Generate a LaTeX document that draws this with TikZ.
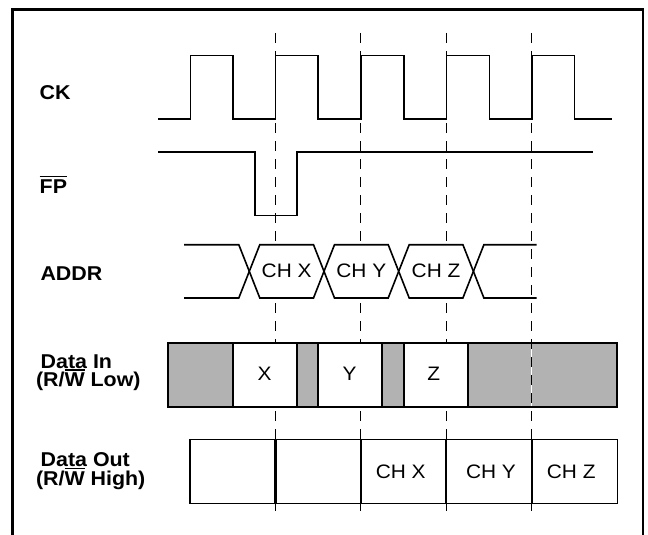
\documentclass[tikz,border=0pt]{standalone}
\usepackage{fontspec}
\setmainfont{Liberation Sans}[FakeStretch=1.07]
\newcommand\ovl[1]{\leavevmode\vbox{\hrule height 1.3pt\kern 2.4pt\hbox{#1}}}
\begin{document}
\begin{tikzpicture}[x=1pt,y=-1pt,
  lbl/.style={font=\bfseries\fontsize{20}{20}\selectfont, inner sep=0pt, anchor=base west},
  txt/.style={font=\fontsize{19.5}{19.5}\selectfont, inner sep=0pt},
  sig/.style={line width=1.6pt, line join=miter},
  gridline/.style={line width=1.5pt, dash pattern=on 10pt off 8pt},
  shade/.style={fill=black!30},
  divider/.style={line width=2.3pt}]
\useasboundingbox (0,0) rectangle (648,535);
% frame
\draw[line width=2.6pt] (12.2,537) -- (12.2,9.5) -- (643,9.5) -- (643,537);
% dashed time markers
\foreach \x/\n in {275.3/a,360.7/b,446.3/c,531.7/d}
  \draw[gridline] (\x,33) coordinate (t\n) -- (\x,513) coordinate (b\n);
% labels
\node[lbl] (ck) at (39.5,99.3) {CK};
\node[lbl] (fp) at (39.5,193.3) {\ovl{FP}};
\node[lbl] (addr) at (40.3,280.7) {ADDR};
\node[lbl] (din1) at (40.5,368.3) {Data In};
\node[lbl] (din2) at (35.8,386.7) {(R/\ovl{W} Low)};
\node[lbl] (dout1) at (40.5,466.7) {Data Out};
\node[lbl] (dout2) at (35.8,485) {(R/\ovl{W} High)};
% CK
\draw[sig] (158,119) -- (190.3,119) |- (232.7,55.7) |- (275.3,119) |- (318,55.7)
  |- (360.7,119) |- (404,55.7) |- (446.3,119) |- (489.3,55.7) |- (531.7,119)
  |- (574.3,55.7) |- (612,119);
% FP
\draw[sig] (158,151.7) -- (255,151.7) |- (296.7,215.3) |- (593.3,151.7);
% ADDR
\def\yt{244.7}\def\yb{298}\def\ym{271.35}\def\h{10.5}
\draw[sig] (184,\yt) -- (249.3-\h,\yt) -- (249.3,\ym);
\draw[sig] (184,\yb) -- (249.3-\h,\yb) -- (249.3,\ym);
\foreach \a/\b/\t/\n in {249.3/324/CH X/ax,324/398.7/CH Y/ay,398.7/473.4/CH Z/az}{
  \draw[sig,fill=white] (\a,\ym) -- (\a+\h,\yt) -- (\b-\h,\yt) -- (\b,\ym) -- (\b-\h,\yb) -- (\a+\h,\yb) -- cycle;
  \node[txt] (\n) at ({(\a+\b)/2},270.5) {\t};
}
\draw[sig] (473.4,\ym) -- (473.4+\h,\yt) -- (536.7,\yt);
\draw[sig] (473.4,\ym) -- (473.4+\h,\yb) -- (536.7,\yb);
% Data In
\fill[shade] (168.3,343.3) rectangle (617.3,407.3);
\fill[white] (233.3,343.3) rectangle (297,407.3);
\fill[white] (318.3,343.3) rectangle (382.3,407.3);
\fill[white] (404,343.3) rectangle (467.7,407.3);
\draw[white,line width=0.8pt] (531.7,343.3) -- (531.7,407.3);
\draw[line width=1.5pt, dash pattern=on 10pt off 8pt, dash phase=4.3pt] (531.7,343.3) -- (531.7,407.3);
\draw[line width=1.7pt] (168.3,343.3) rectangle (617.3,407.3);
\foreach \x in {233.3,297,318.3,382.3,404,467.7}
  \draw[divider] (\x,343.3) -- (\x,407.3);
\node[txt] (dx) at (264.5,374.2) {X};
\node[txt] (dy) at (349.7,374.2) {Y};
\node[txt] (dz) at (433.7,374.2) {Z};
% Data Out
\draw[line width=1.5pt, fill=white] (190,439.3) rectangle (617.3,503.3);
\foreach \x in {275.5,360.7,446.3,531.7}
  \draw[divider] (\x,439.3) -- (\x,503.3);
\node[txt] (ox) at (400.7,472) {CH X};
\node[txt] (oy) at (491,472) {CH Y};
\node[txt] (oz) at (571.2,472) {CH Z};
\end{tikzpicture}
\end{document}
